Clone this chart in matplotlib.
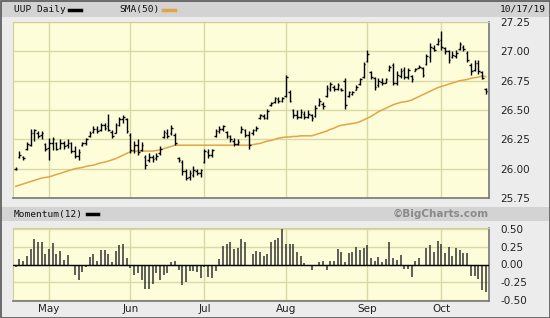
import numpy as np
import matplotlib.pyplot as plt
from matplotlib.patches import Rectangle

## Daily bars for UUP, 17 Apr 2019 .. 17 Oct 2019 (one entry per trading day)

high = [26.01, 26.15, 26.11, 26.23, 26.34, 26.34, 26.32, 26.32, 26.22, 26.26,
        26.27, 26.23, 26.25, 26.24, 26.25, 26.23, 26.19, 26.17, 26.23, 26.26,
        26.32, 26.36, 26.36, 26.39, 26.39, 26.47, 26.33, 26.39, 26.44, 26.46,
        26.43, 26.30, 26.24, 26.25, 26.23, 26.12, 26.13, 26.12, 26.13, 26.19,
        26.33, 26.34, 26.37, 26.30, 26.10, 26.07, 26.00, 25.99, 26.02, 26.00,
        26.00, 26.17, 26.17, 26.17, 26.34, 26.36, 26.37, 26.32, 26.29, 26.26,
        26.25, 26.36, 26.34, 26.32, 26.34, 26.36, 26.47, 26.47, 26.51, 26.57,
        26.61, 26.61, 26.61, 26.80, 26.67, 26.51, 26.50, 26.51, 26.49, 26.50,
        26.47, 26.54, 26.60, 26.57, 26.71, 26.74, 26.71, 26.73, 26.69, 26.77,
        26.66, 26.66, 26.71, 26.77, 26.91, 27.01, 26.83, 26.78, 26.77, 26.77,
        26.77, 26.88, 26.90, 26.83, 26.86, 26.87, 26.86, 26.80, 26.86, 26.88,
        26.87, 26.98, 27.07, 27.05, 27.11, 27.17, 27.04, 27.01, 27.00, 27.01,
        27.08, 27.05, 27.00, 26.90, 26.93, 26.93, 26.83, 26.69]
low = [25.99, 26.09, 26.07, 26.16, 26.19, 26.24, 26.26, 26.25, 26.15, 26.07,
       26.16, 26.16, 26.17, 26.17, 26.18, 26.13, 26.09, 26.07, 26.19, 26.20,
       26.27, 26.30, 26.30, 26.32, 26.33, 26.32, 26.26, 26.30, 26.36, 26.39,
       26.30, 26.13, 26.13, 26.12, 26.15, 26.00, 26.06, 26.06, 26.07, 26.12,
       26.26, 26.26, 26.29, 26.20, 26.06, 25.95, 25.90, 25.90, 25.93, 25.95,
       25.93, 26.05, 26.09, 26.10, 26.27, 26.30, 26.32, 26.26, 26.23, 26.19,
       26.20, 26.30, 26.27, 26.17, 26.29, 26.32, 26.42, 26.42, 26.42, 26.53,
       26.56, 26.56, 26.57, 26.61, 26.57, 26.43, 26.42, 26.43, 26.42, 26.43,
       26.41, 26.44, 26.53, 26.51, 26.61, 26.66, 26.66, 26.67, 26.66, 26.51,
       26.61, 26.63, 26.67, 26.71, 26.77, 26.91, 26.76, 26.67, 26.70, 26.71,
       26.73, 26.83, 26.71, 26.71, 26.77, 26.76, 26.76, 26.74, 26.83, 26.86,
       26.78, 26.88, 26.91, 27.00, 27.05, 27.01, 26.98, 26.90, 26.94, 26.94,
       27.01, 27.00, 26.91, 26.80, 26.83, 26.81, 26.76, 26.64]
opens = [26.00, 26.10, 26.10, 26.17, 26.20, 26.30, 26.30, 26.29, 26.21, 26.18,
         26.22, 26.22, 26.18, 26.22, 26.20, 26.22, 26.15, 26.11, 26.20, 26.22,
         26.28, 26.31, 26.34, 26.33, 26.37, 26.36, 26.31, 26.30, 26.37, 26.42,
         26.42, 26.29, 26.16, 26.20, 26.16, 26.10, 26.07, 26.10, 26.09, 26.13,
         26.27, 26.30, 26.30, 26.29, 26.09, 26.06, 25.98, 25.93, 25.95, 25.98,
         25.96, 26.06, 26.14, 26.12, 26.28, 26.32, 26.34, 26.31, 26.28, 26.24,
         26.21, 26.31, 26.33, 26.29, 26.30, 26.33, 26.43, 26.45, 26.43, 26.54,
         26.57, 26.59, 26.58, 26.62, 26.65, 26.50, 26.46, 26.44, 26.47, 26.44,
         26.46, 26.45, 26.54, 26.55, 26.62, 26.68, 26.70, 26.68, 26.68, 26.75,
         26.62, 26.64, 26.67, 26.72, 26.78, 26.92, 26.82, 26.77, 26.71, 26.74,
         26.73, 26.84, 26.88, 26.73, 26.79, 26.84, 26.78, 26.79, 26.83, 26.86,
         26.86, 26.89, 26.95, 27.03, 27.06, 27.10, 27.03, 27.00, 26.95, 26.96,
         27.02, 27.04, 26.99, 26.88, 26.84, 26.90, 26.82, 26.68]
close = [26.00, 26.12, 26.09, 26.21, 26.30, 26.33, 26.28, 26.30, 26.17, 26.22,
         26.25, 26.17, 26.22, 26.19, 26.22, 26.15, 26.11, 26.14, 26.22, 26.25,
         26.30, 26.34, 26.32, 26.37, 26.35, 26.33, 26.28, 26.37, 26.42, 26.44,
         26.32, 26.16, 26.20, 26.14, 26.20, 26.03, 26.10, 26.08, 26.11, 26.17,
         26.31, 26.28, 26.35, 26.22, 26.07, 25.98, 25.92, 25.96, 25.99, 25.96,
         25.99, 26.15, 26.12, 26.16, 26.32, 26.34, 26.36, 26.28, 26.25, 26.21,
         26.23, 26.34, 26.29, 26.20, 26.33, 26.35, 26.46, 26.43, 26.49, 26.56,
         26.60, 26.58, 26.60, 26.78, 26.58, 26.46, 26.44, 26.48, 26.44, 26.47,
         26.43, 26.52, 26.58, 26.53, 26.69, 26.72, 26.68, 26.71, 26.67, 26.54,
         26.65, 26.65, 26.70, 26.76, 26.89, 26.98, 26.78, 26.70, 26.75, 26.73,
         26.76, 26.87, 26.73, 26.80, 26.83, 26.78, 26.84, 26.76, 26.85, 26.87,
         26.80, 26.96, 27.04, 27.01, 27.09, 27.04, 27.00, 26.93, 26.97, 26.99,
         27.06, 27.02, 26.93, 26.83, 26.90, 26.83, 26.77, 26.66]
sma50 = [25.85, 25.86, 25.87, 25.88, 25.89, 25.90, 25.91, 25.92, 25.925, 25.93,
         25.94, 25.95, 25.96, 25.97, 25.98, 25.99, 26.00, 26.005, 26.01, 26.02,
         26.025, 26.03, 26.04, 26.05, 26.055, 26.065, 26.075, 26.085, 26.10, 26.115,
         26.13, 26.145, 26.15, 26.15, 26.15, 26.15, 26.15, 26.15, 26.155, 26.16,
         26.17, 26.18, 26.19, 26.20, 26.20, 26.20, 26.20, 26.20, 26.20, 26.20,
         26.20, 26.20, 26.20, 26.20, 26.20, 26.20, 26.20, 26.20, 26.20, 26.20,
         26.20, 26.20, 26.20, 26.20, 26.205, 26.21, 26.215, 26.225, 26.235, 26.24,
         26.25, 26.26, 26.265, 26.27, 26.27, 26.275, 26.275, 26.28, 26.28, 26.28,
         26.28, 26.29, 26.30, 26.31, 26.32, 26.335, 26.345, 26.36, 26.37, 26.375,
         26.38, 26.385, 26.39, 26.40, 26.415, 26.43, 26.445, 26.465, 26.485, 26.50,
         26.515, 26.53, 26.545, 26.555, 26.565, 26.57, 26.575, 26.585, 26.60, 26.615,
         26.63, 26.645, 26.66, 26.675, 26.69, 26.70, 26.71, 26.72, 26.73, 26.74,
         26.75, 26.755, 26.76, 26.77, 26.775, 26.78, 26.79, 26.785]
momentum = [-0.03, 0.08, 0.055, 0.125, 0.22, 0.36, 0.32, 0.31, 0.15, 0.22,
            0.30, 0.15, 0.185, 0.065, 0.135, 0.0, -0.15, -0.21, -0.11, -0.03,
            0.10, 0.15, 0.055, 0.20, 0.20, 0.14, 0.03, 0.195, 0.27, 0.28,
            0.09, -0.05, -0.15, -0.12, -0.21, -0.34, -0.34, -0.27, -0.12, -0.21,
            -0.15, -0.12, 0.03, 0.055, -0.07, -0.29, -0.24, -0.085, -0.085, -0.10,
            -0.185, -0.03, -0.175, -0.185, -0.09, 0.08, 0.26, 0.28, 0.32, 0.22,
            0.23, 0.36, 0.32, 0.0, 0.15, 0.185, 0.18, 0.125, 0.15, 0.31,
            0.34, 0.37, 0.50, 0.29, 0.28, 0.29, 0.18, 0.12, 0.02, 0.0,
            -0.07, 0.0, 0.04, 0.055, -0.07, 0.055, 0.055, 0.22, 0.18, 0.04,
            0.16, 0.17, 0.245, 0.20, 0.235, 0.27, 0.09, 0.055, 0.11, 0.03,
            0.08, 0.31, 0.09, 0.065, 0.135, -0.06, -0.06, -0.17, 0.045, 0.09,
            -0.01, 0.235, 0.27, 0.17, 0.33, 0.28, 0.155, 0.245, 0.12, 0.235,
            0.20, 0.155, 0.155, -0.165, -0.165, -0.205, -0.355, -0.38]

month_pos = [9, 31, 51, 73, 95, 115]
month_lbl = ['May', 'Jun', 'Jul', 'Aug', 'Sep', 'Oct']
price_ticks = [25.75, 26.00, 26.25, 26.50, 26.75, 27.00, 27.25]
mom_ticks = [-0.50, -0.25, 0.00, 0.25, 0.50]

## Figure in pixel units, 550 x 318

W, H = 550, 318
fig = plt.figure(figsize=(W / 100, H / 100), dpi=100)
fig.patch.set_facecolor('#ececec')


def rect(x0, y0, x1, y1):
    # pixel box (from top-left) -> figure fraction [left, bottom, width, height]
    return [x0 / W, 1 - y1 / H, (x1 - x0) / W, (y1 - y0) / H]


def band(x0, y0, x1, y1, color):
    l, b, w, h = rect(x0, y0, x1, y1)
    fig.add_artist(Rectangle((l, b), w, h, transform=fig.transFigure,
                             facecolor=color, edgecolor='none', zorder=0))


# grey title bands + outer frame
band(1, 1, 549, 17, '#d3d3d3')
band(1, 207, 549, 221, '#d3d3d3')
l, b, w, h = rect(0.5, 0.5, 549.5, 317.5)
fig.add_artist(Rectangle((l, b), w, h, transform=fig.transFigure,
                         facecolor='none', edgecolor='#555555', lw=1.2, zorder=5))

bg = '#fdfdda'
grid_c = '#d9d9a6'
x = np.arange(len(close))

## Price panel

ax = fig.add_axes(rect(13, 22, 489, 198))
ax.set_facecolor(bg)
ax.vlines(x, low, high, color='black', lw=1.0, zorder=3)
ax.hlines(opens, x - 0.45, x, color='black', lw=1.0, zorder=3)
ax.hlines(close, x, x + 0.45, color='black', lw=1.0, zorder=3)
ax.plot(x, sma50, color='#e4a443', lw=1.1, zorder=2)
ax.set_xlim(-0.75, 127.9)
ax.set_ylim(25.75, 27.25)
ax.set_xticks(month_pos)
ax.set_xticklabels([])
ax.set_yticks(price_ticks)
ax.set_yticklabels(['%.2f' % v for v in price_ticks])
ax.yaxis.tick_right()
ax.tick_params(axis='both', length=0)
ax.tick_params(axis='y', pad=8, labelsize=7.5, labelcolor='#222222')
ax.grid(True, color=grid_c, lw=1.0, zorder=0)
for s in ['top', 'left']:
    ax.spines[s].set_color('#cfcf9a')
for s in ['bottom', 'right']:
    ax.spines[s].set_color('#777777')
    ax.spines[s].set_linewidth(1.2)

## Momentum panel

ax2 = fig.add_axes(rect(13, 228, 489, 301))
ax2.set_facecolor(bg)
ax2.vlines(x, 0, momentum, color='#333333', lw=1.1, zorder=3)
ax2.axhline(0, color='black', lw=1.0, zorder=4)
ax2.set_xlim(-0.75, 127.9)
ax2.set_ylim(-0.51, 0.51)
ax2.set_xticks(month_pos)
ax2.set_xticklabels(month_lbl)
ax2.set_yticks(mom_ticks)
ax2.set_yticklabels(['%.2f' % v for v in mom_ticks])
ax2.yaxis.tick_right()
ax2.tick_params(axis='both', length=0, labelsize=7.5, labelcolor='#222222')
ax2.tick_params(axis='y', pad=8)
ax2.tick_params(axis='x', pad=2.5)
ax2.grid(True, color=grid_c, lw=1.0, zorder=0)
for s in ['top', 'left']:
    ax2.spines[s].set_color('#cfcf9a')
for s in ['bottom', 'right']:
    ax2.spines[s].set_color('#777777')
    ax2.spines[s].set_linewidth(1.2)

## Header texts and legend swatches

mono = 'DejaVu Sans Mono'
fig.text(14 / W, 1 - 9.5 / H, 'UUP Daily', family=mono, fontsize=6.8,
         va='center', ha='left', color='#111111')
fig.text(119 / W, 1 - 9.5 / H, 'SMA(50)', family=mono, fontsize=6.8,
         va='center', ha='left', color='#111111')
fig.text(546 / W, 1 - 9.5 / H, '10/17/19', family=mono, fontsize=6.8,
         va='center', ha='right', color='#111111')
fig.add_artist(plt.Line2D([69 / W, 81 / W], [1 - 9.5 / H] * 2,
                          color='black', lw=2.5, transform=fig.transFigure))
fig.add_artist(plt.Line2D([163 / W, 175 / W], [1 - 9.5 / H] * 2,
                          color='#e4a443', lw=2.5, transform=fig.transFigure))

fig.text(14 / W, 1 - 214 / H, 'Momentum(12)', family=mono, fontsize=6.8,
         va='center', ha='left', color='#111111')
fig.add_artist(plt.Line2D([87 / W, 98 / W], [1 - 214 / H] * 2,
                          color='black', lw=2.5, transform=fig.transFigure))
fig.text(489 / W, 1 - 214 / H, '\u00a9BigCharts.com', fontsize=7.5,
         fontweight='bold', va='center', ha='right', color='#8a8a8a')

fig.savefig('out.png', dpi=100, facecolor=fig.get_facecolor())
